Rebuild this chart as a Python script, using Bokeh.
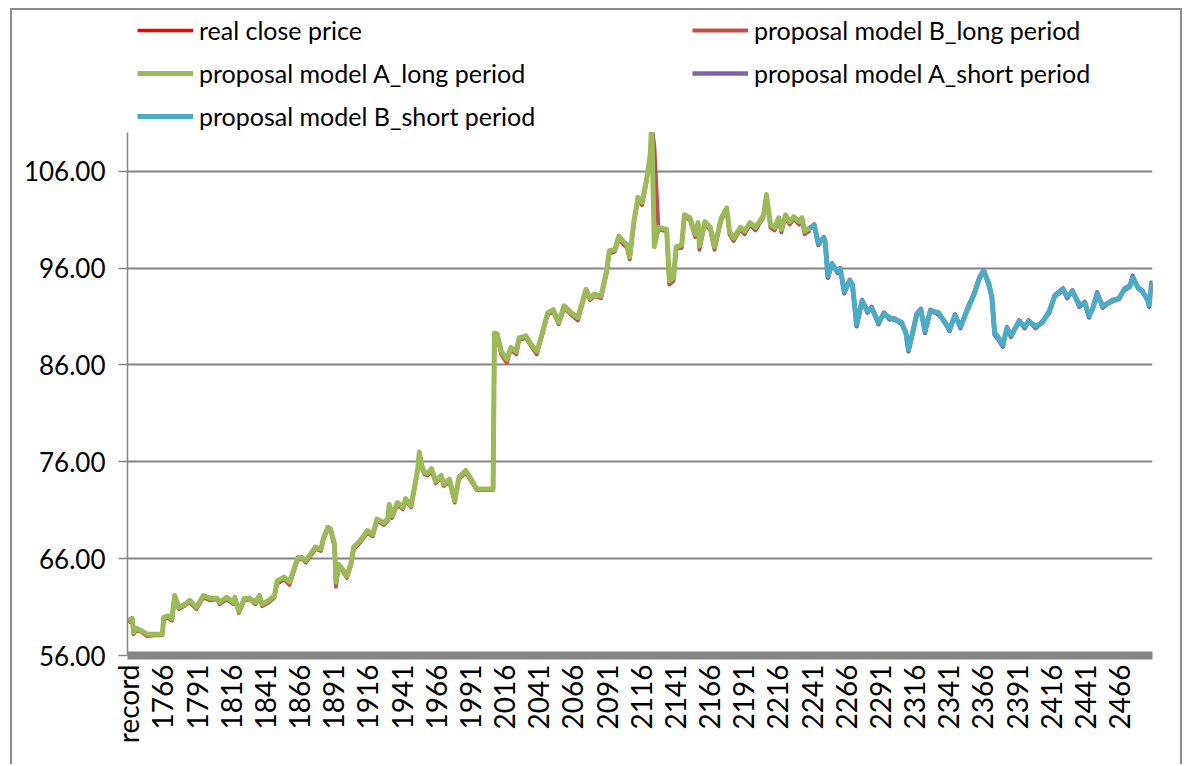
import math
from bokeh.plotting import figure
from bokeh.layouts import column
from bokeh.models import Legend, LegendItem, FixedTicker, NumeralTickFormatter, Range1d
from bokeh.embed import file_html
from bokeh.resources import INLINE

# ---------------- data ----------------
records_long = [
    1741, 1744, 1745, 1747, 1750, 1755, 1760, 1766, 1767, 1770,
    1773, 1775, 1778, 1782, 1786, 1791, 1796, 1801, 1806, 1808,
    1813, 1818, 1819, 1822, 1826, 1830, 1834, 1837, 1839, 1844,
    1848, 1850, 1855, 1859, 1862, 1865, 1868, 1871, 1876, 1878,
    1882, 1884, 1887, 1889, 1892, 1893, 1895, 1898, 1901, 1904,
    1906, 1911, 1916, 1920, 1923, 1928, 1931, 1932, 1934, 1938,
    1942, 1944, 1948, 1950, 1953, 1954, 1956, 1958, 1960, 1963,
    1966, 1970, 1972, 1976, 1980, 1983, 1988, 1992, 1996, 2000,
    2004, 2008, 2009, 2011, 2014, 2018, 2021, 2025, 2027, 2032,
    2036, 2040, 2043, 2048, 2052, 2056, 2060, 2065, 2070, 2076,
    2079, 2082, 2087, 2091, 2093, 2097, 2100, 2103, 2106, 2108,
    2111, 2114, 2117, 2120, 2123, 2124, 2126, 2129, 2135, 2137,
    2140, 2142, 2146, 2148, 2152, 2156, 2158, 2159, 2163, 2167,
    2170, 2175, 2179, 2181, 2184, 2189, 2192, 2196, 2200, 2203,
    2206, 2208, 2211, 2214, 2217, 2219, 2222, 2225, 2228, 2232,
    2234, 2236, 2240,
]
records_short = [
    2240, 2243, 2246, 2250, 2251, 2253, 2256, 2260, 2262, 2265,
    2269, 2271, 2274, 2278, 2282, 2285, 2290, 2294, 2298, 2302,
    2307, 2310, 2312, 2315, 2318, 2321, 2324, 2328, 2334, 2338,
    2342, 2346, 2350, 2355, 2360, 2364, 2367, 2371, 2373, 2375,
    2378, 2381, 2384, 2387, 2393, 2397, 2400, 2405, 2410, 2415,
    2419, 2425, 2428, 2432, 2437, 2441, 2444, 2447, 2450, 2454,
    2461, 2466, 2470, 2474, 2476, 2480, 2483, 2487, 2488, 2490,
]

real_close = [
    59.5, 59.9, 58.3, 58.7, 58.6, 58.1, 58.2, 58.2, 60.0, 60.0,
    59.7, 62.0, 60.9, 61.3, 61.6, 60.9, 62.1, 61.8, 61.9, 61.4,
    61.9, 61.4, 62.1, 60.5, 61.8, 61.9, 61.4, 62.1, 61.2, 61.6,
    62.1, 63.6, 64.0, 63.5, 64.7, 66.0, 66.2, 65.7, 66.7, 67.1,
    66.9, 68.1, 69.3, 69.0, 67.3, 63.2, 65.3, 64.8, 64.1, 65.4,
    67.1, 67.8, 68.8, 68.4, 70.0, 69.6, 70.0, 71.5, 70.3, 71.7,
    71.2, 72.1, 71.4, 72.9, 75.3, 76.9, 75.4, 74.8, 74.7, 75.2,
    73.9, 74.5, 73.6, 74.1, 71.9, 74.3, 75.0, 74.1, 73.1, 73.2,
    73.2, 73.2, 89.1, 89.0, 87.2, 86.4, 87.7, 87.3, 88.7, 88.9,
    88.0, 87.3, 88.7, 91.3, 91.6, 90.3, 92.0, 91.3, 90.8, 93.7,
    92.8, 93.2, 93.0, 95.5, 97.7, 97.8, 99.2, 98.7, 98.3, 97.1,
    100.7, 103.2, 102.7, 104.8, 107.6, 110.8, 99.0, 100.1, 99.9, 94.5,
    94.9, 98.1, 98.3, 101.4, 101.1, 99.4, 100.6, 98.1, 100.7, 100.1,
    98.0, 101.1, 102.1, 99.7, 99.0, 100.1, 99.7, 100.6, 100.1, 100.7,
    101.4, 103.5, 100.4, 100.1, 101.1, 99.9, 101.4, 100.7, 101.2, 100.7,
    101.1, 99.7, 100.1,
    100.3, 98.5, 99.0, 98.7, 95.1, 96.3, 95.6, 95.8, 93.5,
    94.6, 94.2, 90.1, 92.5, 91.5, 91.8, 90.3, 91.2, 90.8, 90.6,
    90.3, 89.2, 87.5, 89.2, 91.1, 91.6, 89.4, 91.5, 91.3, 90.4,
    89.6, 91.0, 89.9, 91.6, 93.2, 94.9, 95.6, 94.2, 92.8, 89.2,
    88.7, 88.0, 89.7, 89.0, 90.4, 89.9, 90.4, 89.9, 90.3, 91.5,
    93.0, 93.7, 93.0, 93.5, 92.1, 92.3, 91.0, 91.8, 93.2, 92.0,
    92.5, 92.8, 93.7, 94.0, 94.9, 93.9, 93.5, 92.7, 92.1, 94.4,
]

model_b_long = [
    59.4, 59.7, 58.2, 58.6, 58.5, 58.0, 58.1, 58.1, 59.7, 59.9,
    59.6, 61.9, 60.8, 61.1, 61.5, 60.8, 62.0, 61.7, 61.8, 61.3,
    61.8, 61.3, 61.9, 60.4, 61.7, 61.8, 61.3, 62.0, 61.1, 61.5,
    62.0, 63.4, 63.9, 63.3, 64.6, 65.9, 66.0, 65.6, 66.6, 67.0,
    66.8, 68.0, 69.0, 68.9, 67.2, 63.1, 65.2, 64.7, 64.0, 65.3,
    67.0, 67.7, 68.7, 68.3, 69.9, 69.5, 69.9, 71.4, 70.2, 71.6,
    71.1, 72.0, 71.3, 72.8, 75.2, 76.8, 75.3, 74.7, 74.6, 75.1,
    73.8, 74.4, 73.5, 74.0, 71.8, 74.2, 74.9, 74.0, 73.1, 73.1,
    73.1, 73.1, 88.8, 88.9, 87.1, 86.2, 87.6, 87.1, 88.6, 88.8,
    87.9, 87.1, 88.6, 91.2, 91.5, 90.2, 91.9, 91.2, 90.6, 93.6,
    92.7, 93.1, 92.9, 95.4, 97.5, 97.7, 99.1, 98.5, 98.1, 96.9,
    100.6, 103.1, 102.5, 104.7, 107.5, 110.8, 108.5, 100.0, 99.8, 94.3,
    94.7, 98.0, 98.1, 101.3, 101.0, 99.2, 100.5, 97.9, 100.6, 99.9,
    97.9, 101.0, 102.0, 99.5, 98.8, 100.0, 99.5, 100.5, 99.9, 100.6,
    101.3, 103.4, 100.2, 99.9, 101.0, 99.7, 101.3, 100.5, 101.1, 100.5,
    101.0, 99.5, 99.9,
]

model_a_long = [
    59.6, 59.8, 58.4, 58.8, 58.6, 58.2, 58.2, 58.2, 59.9, 60.1,
    59.8, 62.2, 61.0, 61.2, 61.7, 61.0, 62.2, 61.9, 61.9, 61.5,
    62.0, 61.5, 62.0, 60.6, 61.9, 61.9, 61.5, 62.2, 61.3, 61.7,
    62.2, 63.7, 64.1, 63.6, 64.8, 66.1, 66.1, 65.8, 66.8, 67.2,
    67.0, 68.2, 69.2, 69.1, 67.5, 63.6, 65.4, 64.9, 64.2, 65.5,
    67.2, 67.9, 68.9, 68.5, 70.1, 69.7, 70.1, 71.6, 70.4, 71.8,
    71.3, 72.2, 71.5, 73.0, 75.4, 77.0, 75.5, 74.9, 74.8, 75.3,
    74.0, 74.6, 73.7, 74.2, 72.0, 74.4, 75.1, 74.2, 73.2, 73.2,
    73.2, 73.2, 89.3, 89.2, 87.4, 86.6, 87.8, 87.4, 88.8, 89.0,
    88.1, 87.4, 88.8, 91.4, 91.7, 90.4, 92.1, 91.4, 90.9, 93.8,
    92.9, 93.3, 93.1, 95.7, 97.8, 97.9, 99.3, 98.8, 98.4, 97.2,
    100.8, 103.3, 102.8, 104.9, 107.7, 110.8, 98.2, 100.2, 100.0, 94.7,
    95.0, 98.2, 98.4, 101.5, 101.2, 99.5, 100.7, 98.3, 100.8, 100.2,
    98.2, 101.2, 102.2, 99.8, 99.1, 100.2, 99.8, 100.7, 100.2, 100.8,
    101.5, 103.6, 100.5, 100.2, 101.2, 100.0, 101.5, 100.8, 101.3, 100.8,
    101.2, 99.8, 100.2,
]

model_a_short = [
    100.1, 100.5, 98.4, 99.2, 98.6, 95.0, 96.5, 95.5, 96.0, 93.4,
    94.8, 94.1, 90.0, 92.7, 91.4, 92.0, 90.2, 91.4, 90.7, 90.8,
    90.2, 89.4, 87.4, 89.4, 91.3, 91.8, 89.3, 91.7, 91.2, 90.6,
    89.5, 91.2, 89.8, 91.8, 93.4, 95.1, 95.8, 94.1, 93.0, 89.1,
    88.6, 87.9, 89.9, 88.9, 90.6, 89.8, 90.6, 89.8, 90.5, 91.4,
    93.2, 93.9, 92.9, 93.7, 92.0, 92.5, 90.9, 92.0, 93.5, 91.9,
    92.7, 92.8, 93.9, 94.2, 95.2, 93.9, 93.7, 92.6, 92.0, 94.7,
]

model_b_short = [
    100.2, 100.4, 98.6, 99.1, 98.8, 95.2, 96.4, 95.7, 95.9, 93.6,
    94.7, 94.3, 90.2, 92.6, 91.6, 91.9, 90.4, 91.3, 90.9, 90.7,
    90.4, 89.3, 87.6, 89.3, 91.2, 91.7, 89.5, 91.6, 91.4, 90.5,
    89.7, 91.1, 90.0, 91.7, 93.3, 95.0, 95.7, 94.3, 92.9, 89.3,
    88.8, 88.1, 89.8, 89.1, 90.5, 90.0, 90.5, 90.0, 90.4, 91.6,
    93.1, 93.8, 93.1, 93.6, 92.2, 92.4, 91.1, 91.9, 93.3, 92.1,
    92.6, 92.9, 93.8, 94.1, 95.0, 94.0, 93.6, 92.8, 92.2, 94.5,
]

y_ticks = [56, 66, 76, 86, 96, 106]
x_tick_records = [1741 + 25 * i for i in range(30)]
first_label = "record"

series_names = [
    "real close price",
    "proposal model B_long period",
    "proposal model A_long period",
    "proposal model A_short period",
    "proposal model B_short period",
]
series_colors = ["#FF0000", "#C0504D", "#9BBB59", "#8064A2", "#4BACC6"]
series_widths = [3.5, 4, 5, 4.5, 5]

# ---------------- layout constants ----------------
FONT = "Lato"
GRID = "#868686"
W = 1182
TOP_H = 132
MAIN_H = 632

# ---------------- main figure ----------------
p = figure(width=W, height=MAIN_H, output_backend="svg", toolbar_location=None,
           x_range=Range1d(1740.5, 2490.5), y_range=Range1d(56, 110),
           min_border_left=127, min_border_right=30,
           min_border_top=0, min_border_bottom=109)
p.outline_line_color = None
p.background_fill_color = "white"
p.border_fill_color = None

real_records = records_long + records_short[1:]
xs_list = [real_records, records_long, records_long, records_short, records_short]
ys_list = [real_close, model_b_long, model_a_long, model_a_short, model_b_short]
renderers = []
for xs, ys, c, w in zip(xs_list, ys_list, series_colors, series_widths):
    renderers.append(p.line(xs, ys, line_color=c, line_width=w, line_join="round"))

p.xgrid.visible = False
p.ygrid.grid_line_color = GRID
p.ygrid.grid_line_width = 2
p.ygrid.ticker = FixedTicker(ticks=y_ticks)

p.yaxis.ticker = FixedTicker(ticks=y_ticks)
p.yaxis.formatter = NumeralTickFormatter(format="0.00")
p.yaxis.axis_line_color = GRID
p.yaxis.axis_line_width = 1.5
p.yaxis.major_tick_line_color = GRID
p.yaxis.major_tick_line_width = 1.5
p.yaxis.major_tick_out = 9
p.yaxis.major_tick_in = 0
p.yaxis.minor_tick_line_color = None
p.yaxis.major_label_standoff = 13
p.yaxis.major_label_text_font = FONT
p.yaxis.major_label_text_font_size = "26px"
p.yaxis.major_label_text_color = "black"

p.xaxis.ticker = FixedTicker(ticks=x_tick_records)
p.xaxis.major_label_overrides = {x_tick_records[0]: first_label}
p.xaxis.major_label_orientation = math.pi / 2
p.xaxis.axis_line_color = GRID
p.xaxis.axis_line_width = 8
p.xaxis.major_tick_line_color = None
p.xaxis.minor_tick_line_color = None
p.xaxis.major_label_standoff = 3
p.xaxis.major_label_text_font = FONT
p.xaxis.major_label_text_font_size = "28px"
p.xaxis.major_label_text_color = "black"

# ---------------- legend strip (above the plot area) ----------------
lf = figure(width=W, height=TOP_H, output_backend="svg", toolbar_location=None,
            x_range=Range1d(0, 1), y_range=Range1d(0, 1),
            min_border_left=0, min_border_right=0, min_border_top=0, min_border_bottom=0)
lf.axis.visible = False
lf.grid.visible = False
lf.outline_line_color = None
lf.background_fill_color = None
lf.border_fill_color = None
# key lines carry the same series (outside this strip's ranges, so only the legend shows)
keys = []
for xs, ys, c, w in zip(xs_list, ys_list, series_colors, series_widths):
    keys.append(lf.line(xs, ys, line_color=c, line_width=w))


def make_legend(idx, loc):
    lg = Legend(items=[LegendItem(label=series_names[i], renderers=[keys[i]]) for i in idx],
                location=loc, orientation="vertical")
    lg.padding = 0
    lg.margin = 0
    lg.border_line_color = None
    lg.background_fill_alpha = 0
    lg.glyph_width = 56
    lg.glyph_height = 32
    lg.label_height = 32
    lg.spacing = 11
    lg.label_standoff = 6
    lg.label_text_font = FONT
    lg.label_text_font_size = "25px"
    lg.label_text_color = "black"
    return lg


# strip frame is aligned with the main frame (left edge at x=127)
lf.add_layout(make_legend([0, 2, 4], (10, 0)))
lf.add_layout(make_legend([1, 3], (565, 43)))

layout = column(lf, p, spacing=0,
                styles={"box-shadow": "inset 10px 8px 0 0 white, inset 12px 10px 0 0 #8c8c8c, "
                                      "inset -2px 0 0 0 #8c8c8c",
                        "background-color": "white"})

open("out.html", "w").write(file_html(layout, INLINE))
